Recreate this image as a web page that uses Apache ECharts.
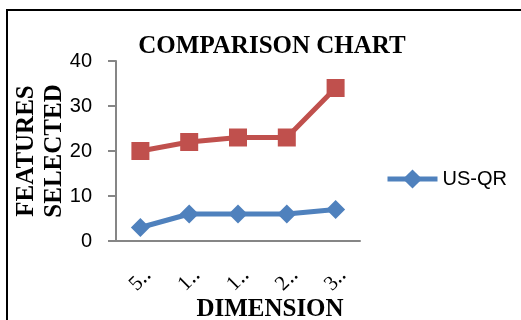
<!DOCTYPE html>
<html>
<head>
<meta charset="utf-8">
<script src="https://cdn.jsdelivr.net/npm/echarts@6/dist/echarts.min.js"></script>
<style>html,body{margin:0;padding:0;background:#fff}#c{width:521px;height:320px}</style>
</head>
<body>
<div id="c"></div>
<script>
var categories = ['5\u2025', '1\u2025', '1\u2025', '2\u2025', '3\u2025'];
var usqrValues = [3, 6, 6, 6, 7];
var secondValues = [20, 22, 23, 23, 34];
var yTicks = [0, 10, 20, 30, 40];
var titleText = 'COMPARISON CHART';
var xName = 'DIMENSION';
var yName = 'FEATURES\nSELECTED';
var seriesNames = ['US-QR', 'Series2'];

var chart = echarts.init(document.getElementById('c'), null, {renderer: 'canvas'});
var serif = '"Liberation Serif", "Times New Roman", serif';
var sans = '"Liberation Sans", Arial, sans-serif';
chart.setOption({
  animation: false,
  backgroundColor: '#fff',
  graphic: [{
    type: 'rect', silent: true,
    shape: {x: 7, y: 10, width: 700, height: 500},
    style: {fill: 'none', stroke: '#000', lineWidth: 2}
  }],
  title: {
    text: titleText,
    left: 267, top: 29, textAlign: 'center',
    textStyle: {fontFamily: serif, fontWeight: 'bold', fontSize: 25, color: '#000'}
  },
  legend: {
    data: [seriesNames[0]],
    left: 385, top: 169, padding: 0,
    itemWidth: 50, itemHeight: 24, itemGap: 5,
    lineStyle: {width: 5},
    textStyle: {fontFamily: sans, fontSize: 20, color: '#000'}
  },
  grid: {left: 116, right: 161, top: 61, bottom: 79, containLabel: false, outerBoundsMode: 'none'},
  xAxis: {
    type: 'category',
    data: categories,
    boundaryGap: true,
    name: xName,
    nameLocation: 'middle',
    nameGap: 56,
    nameMoveOverlap: false,
    nameTextStyle: {fontFamily: serif, fontWeight: 'bold', fontSize: 25, color: '#000', padding: [0, 0, 0, 64]},
    axisLine: {lineStyle: {color: '#868686', width: 2}},
    axisTick: {show: false},
    axisLabel: {rotate: 45, margin: 39, align: 'center', verticalAlign: 'middle', fontFamily: serif, fontSize: 21, color: '#000'}
  },
  yAxis: {
    type: 'value',
    min: yTicks[0], max: yTicks[yTicks.length - 1], interval: 10,
    name: yName,
    nameLocation: 'middle',
    nameGap: 47,
    nameRotate: 90,
    nameMoveOverlap: false,
    nameTextStyle: {fontFamily: serif, fontWeight: 'bold', fontSize: 25, lineHeight: 28, color: '#000'},
    axisLine: {show: true, lineStyle: {color: '#868686', width: 2}},
    axisTick: {show: true, inside: false, length: 8, lineStyle: {color: '#868686', width: 2}},
    splitLine: {show: false},
    axisLabel: {margin: 24, fontFamily: sans, fontSize: 20, color: '#000'}
  },
  series: [{
    name: seriesNames[0],
    type: 'line',
    data: usqrValues,
    symbol: 'diamond',
    symbolSize: 19,
    lineStyle: {color: '#4F81BD', width: 5},
    itemStyle: {color: '#4F81BD'}
  }, {
    name: seriesNames[1],
    type: 'line',
    data: secondValues,
    symbol: 'rect',
    symbolSize: 18,
    lineStyle: {color: '#C0504D', width: 5},
    itemStyle: {color: '#C0504D'}
  }]
});
</script>
</body>
</html>
